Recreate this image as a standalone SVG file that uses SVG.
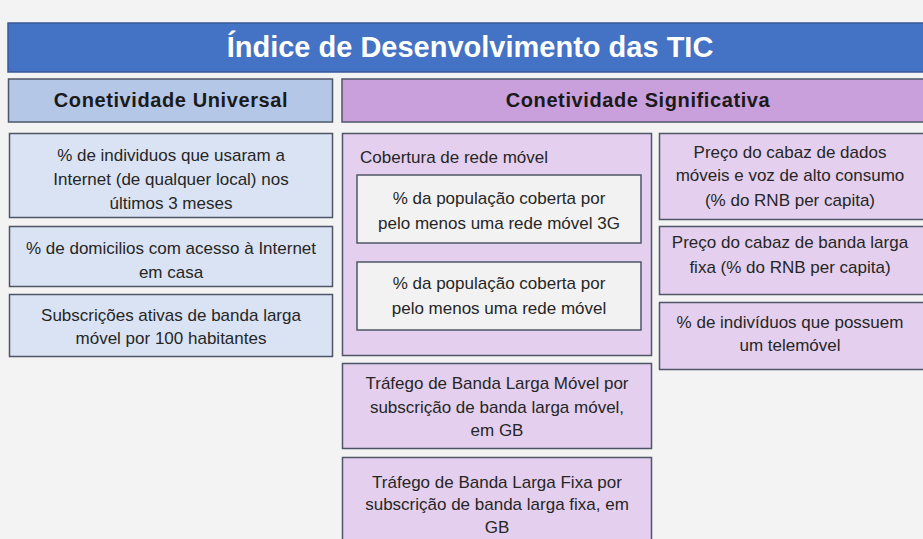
<svg xmlns="http://www.w3.org/2000/svg" width="923" height="539" viewBox="0 0 923 539">
<style>
.t{font-family:"Liberation Sans",Arial,sans-serif;font-size:17px;fill:#262626;text-anchor:middle}
.h{font-family:"Liberation Sans",Arial,sans-serif;font-size:20px;font-weight:bold;fill:#1a1a1a;text-anchor:middle;letter-spacing:0.6px}
.blue{fill:#dae3f3;stroke:#4d5566;stroke-width:1.5}
.purp{fill:#e4d0ee;stroke:#4d5566;stroke-width:1.5}
.grey{fill:#f2f2f2;stroke:#4d5566;stroke-width:1.5}
</style>
<rect width="923" height="539" fill="#f3f3f3"/>
<g id="title">
<rect x="8" y="23" width="917" height="49" fill="#4472c4" stroke="#3a5a99" stroke-width="1.5"/>
<text x="470" y="57" font-family="'Liberation Sans',Arial,sans-serif" font-size="29" font-weight="bold" fill="#ffffff" text-anchor="middle">Índice de Desenvolvimento das TIC</text>
</g>
<g id="universal">
<rect x="8.5" y="79" width="324" height="43" fill="#b4c7e7" stroke="#4d5566" stroke-width="1.5"/>
<text class="h" x="171" y="107">Conetividade Universal</text>
</g>
<g id="significativa">
<rect x="342" y="79" width="583" height="43" fill="#c9a0dc" stroke="#4d5566" stroke-width="1.5"/>
<text class="h" x="638" y="107">Conetividade Significativa</text>
</g>
<g id="u1">
<rect class="blue" x="9.5" y="133.5" width="323" height="84"/>
<text class="t" x="171" y="161">% de individuos que usaram a</text>
<text class="t" x="171" y="185">Internet (de qualquer local) nos</text>
<text class="t" x="171" y="209">últimos 3 meses</text>
</g>
<g id="u2">
<rect class="blue" x="9.5" y="226.5" width="323" height="60"/>
<text class="t" x="171" y="254">% de domicilios com acesso à Internet</text>
<text class="t" x="171" y="278">em casa</text>
</g>
<g id="u3">
<rect class="blue" x="9.5" y="294.5" width="323" height="62"/>
<text class="t" x="171" y="321">Subscrições ativas de banda larga</text>
<text class="t" x="171" y="344">móvel por 100 habitantes</text>
</g>
<g id="cobertura">
<rect class="purp" x="342.5" y="133.5" width="309" height="222"/>
<text x="360" y="163" font-family="'Liberation Sans',Arial,sans-serif" font-size="17" fill="#262626">Cobertura de rede móvel</text>
</g>
<g id="c1">
<rect class="grey" x="357" y="175" width="284" height="68"/>
<text class="t" x="499" y="204">% da população coberta por</text>
<text class="t" x="499" y="229">pelo menos uma rede móvel 3G</text>
</g>
<g id="c2">
<rect class="grey" x="357" y="262" width="284" height="68"/>
<text class="t" x="499" y="289">% da população coberta por</text>
<text class="t" x="499" y="314">pelo menos uma rede móvel</text>
</g>
<g id="trafego-movel">
<rect class="purp" x="342.5" y="363.5" width="309" height="85"/>
<text class="t" x="497" y="389">Tráfego de Banda Larga Móvel por</text>
<text class="t" x="497" y="413">subscrição de banda larga móvel,</text>
<text class="t" x="497" y="436">em GB</text>
</g>
<g id="trafego-fixa">
<rect class="purp" x="342.5" y="457.5" width="309" height="90"/>
<text class="t" x="497" y="488">Tráfego de Banda Larga Fixa por</text>
<text class="t" x="497" y="510">subscrição de banda larga fixa, em</text>
<text class="t" x="497" y="533">GB</text>
</g>
<g id="p1">
<rect class="purp" x="659.5" y="133.5" width="266" height="86"/>
<text class="t" x="790" y="158">Preço do cabaz de dados</text>
<text class="t" x="790" y="181">móveis e voz de alto consumo</text>
<text class="t" x="790" y="206">(% do RNB per capita)</text>
</g>
<g id="p2">
<rect class="purp" x="659.5" y="226.5" width="266" height="68"/>
<text class="t" x="790" y="248">Preço do cabaz de banda larga</text>
<text class="t" x="790" y="273">fixa (% do RNB per capita)</text>
</g>
<g id="p3">
<rect class="purp" x="659.5" y="302.5" width="266" height="67"/>
<text class="t" x="790" y="328">% de indivíduos que possuem</text>
<text class="t" x="790" y="351">um telemóvel</text>
</g>
<g id="connectors"/>
</svg>
